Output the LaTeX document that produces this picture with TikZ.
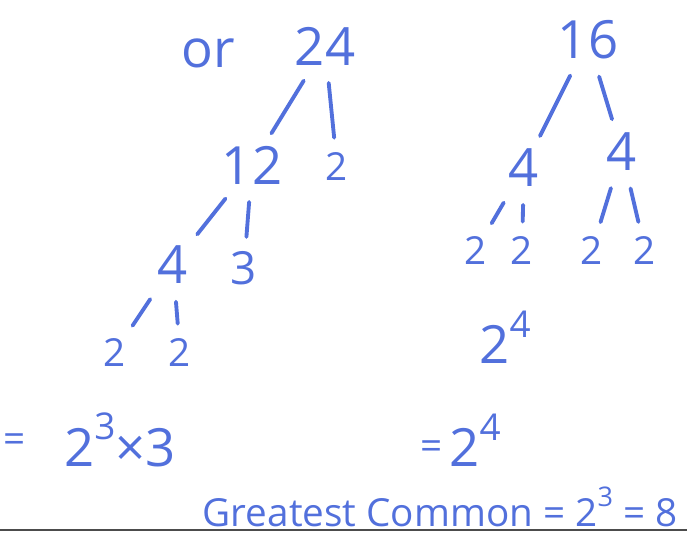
\documentclass[tikz,border=0pt]{standalone}
\usepackage{fontspec}
\setmainfont{Open Sans}
\usepackage{graphicx}
\usetikzlibrary{positioning}
\definecolor{ink}{RGB}{82,112,220}
\newcommand{\sups}[1]{\raisebox{0.5em}{\scalebox{0.7}{#1}}}

\begin{document}
\begin{tikzpicture}[
    x=0.02cm, y=-0.02cm,
    every node/.style={text=ink, inner sep=1pt},
    big/.style={font=\fontsize{30}{30}\selectfont},
    mid/.style={font=\fontsize{26}{26}\selectfont},
    small/.style={font=\fontsize{22}{22}\selectfont},
    branch/.style={draw=ink, line width=2.2pt, line cap=round, shorten <=9pt, shorten >=7pt}
  ]
  \useasboundingbox (0,0) rectangle (687,539);

  % left tree (24)
  \node[big] (orword) at (208,53) {or};
  \node[big] (n24) at (325,46) {24};
  \node[big] (n12) at (252,165) {12};
  \node[small] (n12b) at (337,166) {2};
  \node[big] (n4) at (173,265) {4};
  \node[mid] (n3) at (244,268) {3};
  \node[small] (n4l) at (115,352) {2};
  \node[small] (n4r) at (180,352) {2};

  \draw[branch] (n24) -- (n12);
  \draw[branch] (n24) -- (n12b);
  \draw[branch] (n12) -- (n4);
  \draw[branch] (n12) -- (n3);
  \draw[branch] (n4) -- (n4l);
  \draw[branch] (n4) -- (n4r);

  \node[small] (eql) at (15,443) {=};
  \node[font=\fontsize{30}{30}\selectfont] (resl) at (120,440) {2\sups{3}×3};

  % right tree (16)
  \node[big] (n16) at (588,40) {16};
  \node[big] (n16l) at (524,168) {4};
  \node[big] (n16r) at (622,152) {4};
  \node[small] (la) at (476,250) {2};
  \node[small] (lb) at (522,250) {2};
  \node[small] (lc) at (592,250) {2};
  \node[small] (ld) at (645,250) {2};

  \draw[branch] (n16) -- (n16l);
  \draw[branch] (n16) -- (n16r);
  \draw[branch] (n16l) -- (la);
  \draw[branch] (n16l) -- (lb);
  \draw[branch] (n16r) -- (lc);
  \draw[branch] (n16r) -- (ld);

  \node[big] (pow16) at (505,337) {2\sups{4}};
  \node[small] (eqr) at (432,450) {=};
  \node[big] (resr) at (475,440) {2\sups{4}};

  % bottom line
  \node[font=\fontsize{22}{22}\selectfont] (gcf) at (440,507) {Greatest Common = 2\sups{3} = 8};
  \coordinate (rulel) at (0,530);
  \coordinate (ruler) at (687,530);
  \draw[gray!60!black, line width=1.2pt] (rulel) -- (ruler);
\end{tikzpicture}
\end{document}
